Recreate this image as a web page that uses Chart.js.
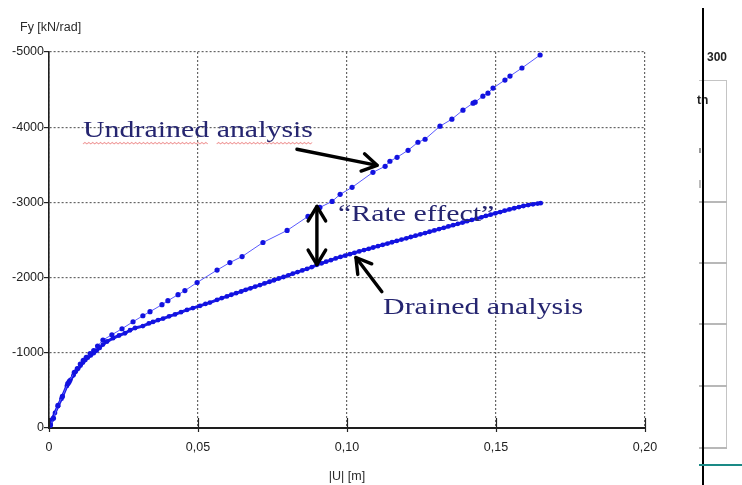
<!DOCTYPE html>
<html>
<head>
<meta charset="utf-8">
<script src="https://cdn.jsdelivr.net/npm/chart.js@4/dist/chart.umd.min.js"></script>
<style>
  html, body { margin: 0; padding: 0; background: #fff; }
  #wrap { position: relative; width: 742px; height: 485px; overflow: hidden; background: #fff; }
  #c { position: absolute; left: 0; top: 0; }
  .side { position: absolute; }
  .gline { position: absolute; left: 699px; width: 28px; height: 2px; background: #b8b8b8; }
  .lbl { position: absolute; font-family: "Liberation Sans", Arial, sans-serif; font-weight: bold; font-size: 12px; color: #222; }
</style>
</head>
<body>
<div id="wrap">
  <canvas id="c" width="742" height="485"></canvas>
  <!-- neighbouring panel at the right edge -->
  <div class="side" style="left:699px; top:80px; width:27px; height:367px; border:1px solid #c4c4c4; border-left:none;"></div>
  <div class="gline" style="top:201px;"></div>
  <div class="gline" style="top:262px;"></div>
  <div class="gline" style="top:323px;"></div>
  <div class="gline" style="top:385px;"></div>
  <div class="gline" style="top:447px;"></div>
  <div class="side" style="left:699px; top:148px; width:2px; height:5px; background:#999;"></div>
  <div class="side" style="left:699px; top:180px; width:2px; height:8px; background:#bbb;"></div>
  <div class="lbl" style="left:707px; top:50px;">300</div>
  <div class="lbl" style="left:697px; top:93px;">tn</div>
  <div class="side" style="left:702px; top:8px; width:2px; height:477px; background:#000;"></div>
  <div class="side" style="left:699px; top:464px; width:43px; height:2px; background:#1a8a86;"></div>
</div>
<script>
// Horizontal displacement |U| [m] and force Fy [kN/rad] for the two analyses
const undrainedU = [0, 0.0005, 0.0015, 0.003, 0.0045, 0.0063, 0.0068, 0.0085, 0.0095, 0.0105,
  0.0115, 0.0125, 0.0138, 0.015, 0.0163, 0.0181, 0.0211, 0.0245, 0.0282, 0.0315,
  0.0339, 0.0379, 0.0399, 0.0433, 0.0456, 0.0497, 0.0564, 0.0607, 0.0648, 0.0718,
  0.0799, 0.0869, 0.0909, 0.0950, 0.0977, 0.1017, 0.1087, 0.1128, 0.1144, 0.1168,
  0.1205, 0.1238, 0.1262, 0.1312, 0.1352, 0.1389, 0.1423, 0.1430, 0.1456, 0.1473,
  0.1490, 0.1530, 0.1547, 0.1587, 0.1648];
const undrainedF = [0, -40, -130, -300, -420, -590, -620, -740, -790, -850,
  -900, -940, -990, -1030, -1090, -1170, -1240, -1320, -1413, -1493,
  -1547, -1640, -1693, -1773, -1827, -1935, -2100, -2200, -2280, -2467,
  -2627, -2813, -2933, -3013, -3107, -3200, -3400, -3480, -3547, -3600,
  -3693, -3800, -3840, -4013, -4107, -4227, -4320, -4333, -4413, -4453,
  -4520, -4627, -4680, -4787, -4960];

const drainedU = [0, 0.0005, 0.001, 0.002, 0.003, 0.0042, 0.006, 0.0066, 0.0072, 0.0082,
  0.009, 0.0098, 0.0106, 0.0114, 0.0122, 0.013, 0.014, 0.015, 0.016, 0.017,
  0.0181, 0.0195, 0.0215, 0.0235, 0.0255, 0.0272, 0.0289, 0.0315, 0.0335, 0.0349,
  0.0366, 0.0383, 0.0403, 0.0423, 0.0443, 0.0463, 0.0483, 0.0507, 0.0525, 0.054,
  0.0564, 0.0580, 0.0597, 0.0612, 0.0628, 0.0645, 0.0660, 0.0676, 0.0692, 0.0708,
  0.0723, 0.0740, 0.0755, 0.0771, 0.0787, 0.0803, 0.0818, 0.0834, 0.0850, 0.0866,
  0.0882, 0.0899, 0.0915, 0.0930, 0.0946, 0.0962, 0.0978, 0.0994, 0.1010, 0.1025,
  0.1041, 0.1057, 0.1073, 0.1088, 0.1104, 0.1120, 0.1136, 0.1151, 0.1167, 0.1183,
  0.1199, 0.1214, 0.1230, 0.1246, 0.1262, 0.1277, 0.1293, 0.1309, 0.1325, 0.1340,
  0.1356, 0.1372, 0.1388, 0.1403, 0.1419, 0.1435, 0.1451, 0.1466, 0.1482, 0.1498,
  0.1514, 0.1529, 0.1545, 0.1561, 0.1577, 0.1592, 0.1608, 0.1624, 0.1640, 0.1650];
const drainedF = [0, -50, -110, -200, -290, -390, -560, -600, -640, -700,
  -750, -790, -830, -870, -905, -935, -965, -995, -1030, -1065,
  -1110, -1150, -1195, -1230, -1260, -1300, -1330, -1355, -1390, -1410,
  -1435, -1455, -1485, -1510, -1540, -1570, -1595, -1625, -1650, -1668,
  -1705, -1728, -1750, -1772, -1793, -1815, -1838, -1858, -1880, -1900,
  -1922, -1945, -1965, -1988, -2008, -2030, -2052, -2073, -2095, -2117,
  -2140, -2170, -2190, -2212, -2232, -2255, -2275, -2293, -2312, -2330,
  -2348, -2366, -2383, -2400, -2418, -2436, -2453, -2470, -2488, -2505,
  -2522, -2540, -2557, -2575, -2592, -2610, -2627, -2645, -2662, -2680,
  -2697, -2715, -2732, -2750, -2767, -2785, -2802, -2820, -2837, -2855,
  -2872, -2890, -2906, -2922, -2938, -2952, -2965, -2975, -2985, -2990];

// Axis ticks and their labels
const xTicks = [0, 0.05, 0.10, 0.15, 0.20];
const xTickLabels = ['0', '0,05', '0,10', '0,15', '0,20'];
const yTicks = [0, -1000, -2000, -3000, -4000, -5000];
const yTickLabels = ['0', '-1000', '-2000', '-3000', '-4000', '-5000'];
const xTitle = '|U| [m]';
const yTitle = 'Fy [kN/rad]';

// Callout texts and arrows, placed in data coordinates
const calloutTexts = ['Undrained analysis', '\u201CRate effect\u201D', 'Drained analysis'];
const calloutU = [0.0114, 0.0970, 0.1121];
const calloutF = [-3867, -2747, -1520];
// arrow shafts: from (U, F) to (U, F); the third list marks double-headed arrows
const arrowFromU = [0.0832, 0.0899, 0.1117];
const arrowFromF = [-3707, -2947, -1813];
const arrowToU = [0.1101, 0.0899, 0.1030];
const arrowToF = [-3493, -2173, -2267];
const arrowBothEnds = [false, true, false];

const toPoints = (xs, ys) => xs.map((x, i) => ({ x: x, y: ys[i] }));

const tickFont = { family: '"Liberation Sans", Arial, sans-serif', size: 12.5 };

function drawHead(ctx, fx, fy, tx, ty) {
  const ang = Math.atan2(ty - fy, tx - fx);
  const len = 17, spread = Math.PI / 5.8;
  ctx.beginPath();
  ctx.moveTo(tx - len * Math.cos(ang - spread), ty - len * Math.sin(ang - spread));
  ctx.lineTo(tx, ty);
  ctx.lineTo(tx - len * Math.cos(ang + spread), ty - len * Math.sin(ang + spread));
  ctx.stroke();
}

const overlay = {
  id: 'overlay',
  afterDraw(chart) {
    const ctx = chart.ctx;
    const xs = chart.scales.x, ys = chart.scales.y;
    const area = chart.chartArea;
    ctx.save();
    // short tick marks on the horizontal axis
    ctx.strokeStyle = '#222';
    ctx.lineWidth = 1.2;
    xTicks.forEach(v => {
      const px = Math.round(xs.getPixelForValue(v)) + 0.5;
      ctx.beginPath();
      ctx.moveTo(px, area.bottom - 10);
      ctx.lineTo(px, area.bottom + 4);
      ctx.stroke();
    });
    // axis titles
    ctx.fillStyle = '#2a2a2a';
    ctx.font = '12.5px "Liberation Sans", Arial, sans-serif';
    ctx.textAlign = 'left';
    ctx.textBaseline = 'alphabetic';
    ctx.fillText(yTitle, 20, 31);
    ctx.textAlign = 'center';
    ctx.fillText(xTitle, (area.left + area.right) / 2, 480);

    // callout texts
    ctx.fillStyle = '#252570';
    ctx.font = '23px "Liberation Serif", "Times New Roman", serif';
    ctx.textAlign = 'left';
    calloutTexts.forEach((t, i) => {
      const px = xs.getPixelForValue(calloutU[i]);
      const py = ys.getPixelForValue(calloutF[i]);
      ctx.save();
      ctx.translate(px, py);
      ctx.scale(1.3, 1);
      ctx.fillText(t, 0, 0);
      if (i === 0) {
        // spell-check squiggles under the two words
        const w1 = ctx.measureText('Undrained').width;
        const wSp = ctx.measureText('Undrained ').width;
        const wAll = ctx.measureText(t).width;
        ctx.strokeStyle = 'rgba(225,70,70,0.55)';
        ctx.lineWidth = 0.8;
        [[0, w1], [wSp, wAll]].forEach(([a, b]) => {
          ctx.beginPath();
          let up = false;
          for (let s = a; s <= b; s += 1.5) {
            const yy = 6 + (up ? -0.8 : 0.8);
            if (s === a) ctx.moveTo(s, yy); else ctx.lineTo(s, yy);
            up = !up;
          }
          ctx.stroke();
        });
      }
      ctx.restore();
    });

    // arrows
    ctx.strokeStyle = '#000';
    ctx.lineWidth = 3.4;
    ctx.lineCap = 'round';
    ctx.lineJoin = 'round';
    arrowFromU.forEach((u, i) => {
      const fx = xs.getPixelForValue(u), fy = ys.getPixelForValue(arrowFromF[i]);
      const tx = xs.getPixelForValue(arrowToU[i]), ty = ys.getPixelForValue(arrowToF[i]);
      ctx.beginPath();
      ctx.moveTo(fx, fy);
      ctx.lineTo(tx, ty);
      ctx.stroke();
      drawHead(ctx, fx, fy, tx, ty);
      if (arrowBothEnds[i]) drawHead(ctx, tx, ty, fx, fy);
    });
    ctx.restore();
  }
};

new Chart(document.getElementById('c'), {
  type: 'line',
  data: {
    datasets: [
      {
        label: 'Undrained',
        data: toPoints(undrainedU, undrainedF),
        borderColor: '#5a5aff',
        borderWidth: 1,
        pointRadius: 2.6,
        pointBackgroundColor: '#1212e0',
        pointBorderColor: '#1212e0',
        pointBorderWidth: 0,
        tension: 0
      },
      {
        label: 'Drained',
        data: toPoints(drainedU, drainedF),
        borderColor: '#1a1ae8',
        borderWidth: 3,
        pointRadius: 2.4,
        pointBackgroundColor: '#1212e0',
        pointBorderColor: '#1212e0',
        pointBorderWidth: 0,
        tension: 0
      }
    ]
  },
  options: {
    responsive: false,
    animation: false,
    devicePixelRatio: 1,
    layout: { padding: { top: 52, right: 97, left: 0, bottom: 0 } },
    plugins: { legend: { display: false }, tooltip: { enabled: false } },
    scales: {
      x: {
        type: 'linear',
        min: 0,
        max: 0.2,
        afterBuildTicks: s => { s.ticks = xTicks.map(v => ({ value: v })); },
        afterFit: s => { s.height = 57; },
        ticks: {
          callback: (v, i) => xTickLabels[i],
          font: tickFont,
          color: '#222',
          padding: 12,
          maxRotation: 0,
          autoSkip: false
        },
        grid: { color: '#666', lineWidth: 1.2, drawTicks: false },
        border: { display: true, color: '#1e1e1e', width: 2, dash: [2, 2] }
      },
      y: {
        type: 'linear',
        min: -5000,
        max: 0,
        reverse: true,
        afterBuildTicks: s => { s.ticks = yTicks.map(v => ({ value: v })); },
        afterFit: s => { s.width = 49; },
        ticks: {
          callback: (v, i) => yTickLabels[i],
          font: tickFont,
          color: '#222',
          padding: 0,
          autoSkip: false
        },
        grid: {
          color: '#666', lineWidth: 1.2, drawTicks: true, tickLength: 5,
          tickColor: '#222', tickBorderDash: [], tickWidth: 1.2
        },
        border: { display: true, color: '#1e1e1e', width: 1.6, dash: [2, 2] }
      }
    }
  },
  plugins: [overlay]
});
</script>
</body>
</html>
